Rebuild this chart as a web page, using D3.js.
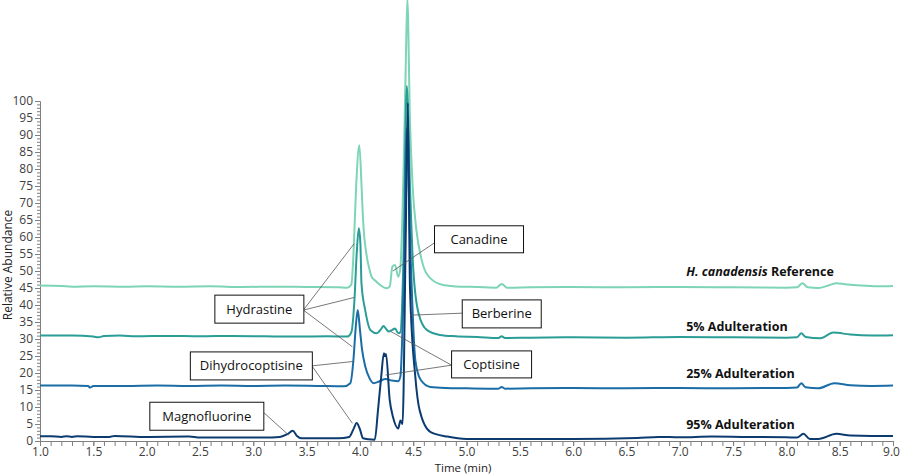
<!DOCTYPE html>
<html>
<head>
<meta charset="utf-8">
<script src="https://cdn.jsdelivr.net/npm/d3@7"></script>
<style>
body { margin: 0; background: #fff; }
text { font-family: "Open Sans", "Noto Sans", sans-serif; }
</style>
</head>
<body>
<script>
const width = 900;
const height = 475;

//-----------------------------DATA------------------------------//
const refTime = [1.0,1.2,1.3,1.5,1.8,2.0,2.3,2.6,2.9,3.2,3.5,3.8,3.88,3.92,3.94,3.965,3.995,4.016,4.03,4.065,4.09,4.11,4.15,4.19,4.25,4.28,4.305,4.33,4.36,4.38,4.41,4.43,4.445,4.47,4.495,4.53,4.58,4.66,4.78,4.95,5.1,5.28,5.33,5.38,5.6,6.0,6.5,7.0,7.5,8.0,8.1,8.15,8.2,8.3,8.4,8.47,8.55,8.7,8.85,9.0];
const refVal = [45.7,45.6,45.4,45.5,45.4,45.5,45.4,45.5,45.3,45.4,45.3,45.2,45.1,46,55,74.8,87,74.8,65,54.2,50.5,48.3,47,45.9,44.9,45.4,51.3,51.8,48.3,51,80,110,130,94,74.8,62,53.2,47.9,45.9,45.4,45.3,45.1,46.2,45.1,45.2,45.3,45.2,45.3,45.2,45.1,45.2,46.4,45.2,45,45.8,46.4,46.1,45.7,45.5,45.6];

const tealTime = [1.0,1.3,1.5,1.55,1.6,1.75,1.9,2.2,2.5,2.8,3.1,3.4,3.7,3.88,3.92,3.95,3.97,3.99,4.005,4.015,4.05,4.1,4.16,4.2,4.22,4.25,4.27,4.3,4.33,4.36,4.38,4.41,4.44,4.47,4.5,4.55,4.63,4.75,4.9,5.1,5.3,5.33,5.36,5.6,6.0,6.5,7.0,7.5,8.0,8.1,8.14,8.18,8.32,8.44,8.6,8.8,9.0];
const tealVal = [31,31,30.7,30.5,30.9,31,30.8,30.9,30.8,30.9,30.8,30.7,30.8,30.7,32,42,55,62.6,58,46.4,38.5,32.6,31.7,33,33.8,32.8,32.2,32.6,33.1,31.7,32,55,104.4,75,51,37.6,32.6,31.2,30.8,30.6,30.3,30.8,30.3,30.4,30.5,30.4,30.6,30.5,30.4,30.5,31.7,30.6,30.2,31.9,31.3,31.0,31.1];

const blueTime = [1.0,1.3,1.45,1.47,1.5,1.8,2.1,2.4,2.7,3.0,3.3,3.6,3.85,3.91,3.94,3.96,3.98,4.0,4.02,4.05,4.09,4.13,4.18,4.24,4.3,4.36,4.38,4.41,4.44,4.47,4.52,4.57,4.66,4.8,5.0,5.3,5.33,5.36,5.6,6.0,6.5,7.0,7.5,8.0,8.1,8.14,8.18,8.3,8.45,8.6,8.8,9.0];
const blueVal = [16.3,16.3,16.2,15.7,16.2,16.2,16.3,16.2,16.3,16.2,16.3,16.2,16.1,17,24,33,38.5,33,27,22,18.5,17,17.5,18.2,17.8,17.6,19,45,92,60,23.8,18,15.9,15.6,15.5,15.4,15.9,15.4,15.5,15.6,15.5,15.6,15.5,15.6,15.7,17,15.8,15.5,17,16.4,16.2,16.3];

const navyTime = [1.0,1.1,1.2,1.25,1.3,1.35,1.5,1.65,1.7,2.0,2.4,2.5,2.8,3.1,3.25,3.32,3.37,3.41,3.45,3.6,3.8,3.9,3.94,3.97,4.0,4.03,4.08,4.14,4.17,4.2,4.225,4.235,4.245,4.28,4.31,4.36,4.38,4.40,4.43,4.45,4.47,4.52,4.56,4.66,4.82,5.0,5.5,6.0,6.6,6.8,7.0,7.3,7.6,8.0,8.1,8.16,8.22,8.3,8.47,8.6,8.8,9.0];
const navyVal = [1.4,1.4,1.2,1.4,1.2,1.4,1.2,1.2,1.5,1.2,1.3,1.0,1.0,1.0,1.2,2.0,3.0,1.5,0.8,0.8,0.8,1.2,3.5,5.3,3.5,0.8,0.5,0.4,9.1,18.9,25.8,25,25.6,12,7.1,3.7,6,5,60,99.4,45,18.9,9.1,2.7,1.3,0.6,0.6,0.6,0.9,1.2,1.1,1.3,1.2,1.1,1.0,2.1,0.6,0.6,2.1,1.6,1.5,1.5];

const seriesNames = ["H. canadensis Reference", "5% Adulteration", "25% Adulteration", "95% Adulteration"];
const seriesColors = ["#7dd5b5", "#2a9d97", "#1a6da6", "#0c3b70"];
// label position (time, abundance) for the bold series labels
const seriesLabelAt = [[7.06, 48.5], [7.06, 32.5], [7.06, 18.4], [7.06, 3.4]];

const xTicks = d3.range(1.0, 9.01, 0.5);
const yTicks = d3.range(0, 101, 5);

// annotation boxes: name, box left/top in (time, abundance), leader targets (time, abundance)
const annoNames = ["Canadine", "Berberine", "Coptisine", "Hydrastine", "Dihydrocoptisine", "Magnofluorine"];
const annoBox = [[4.70, 63.3], [4.96, 41.5], [4.86, 26.5], [2.64, 42.9], [2.41, 26.2], [2.03, 11.4]];
const annoSize = [[89, 27], [79, 28], [80, 27], [89, 28], [122, 28], [114, 28]];
const annoFrom = [[4.70, 58.3], [4.96, 37.6], [4.86, 22.3], [3.47, 38.5], [3.55, 22.1], [3.10, 8.3]];
const annoTargets = [
	[[4.31, 50.0]],
	[[4.47, 37.0]],
	[[4.24, 19.4], [4.29, 32.2]],
	[[3.945, 58.0], [3.945, 42.2], [3.93, 27.7]],
	[[3.94, 23.4], [3.93, 5.2]],
	[[3.33, 1.8]]
];

//----------------------------SCALES-----------------------------//
const xScale = d3.scaleLinear().domain([1, 9]).range([40, 893]);
const yScale = d3.scaleLinear().domain([0, 100]).range([441, 101]);

const svg = d3.select("body").append("svg")
	.attr("width", width).attr("height", height);

//-----------------------------AXES------------------------------//
const axisColor = "#7f7f7f";

// minor ticks first
svg.append("g").attr("transform", "translate(0,441)")
	.call(d3.axisBottom(xScale).tickValues(d3.range(1.0, 9.001, 0.1)).tickSize(5).tickSizeOuter(0).tickFormat(""));
svg.append("g").attr("transform", "translate(40,0)")
	.call(d3.axisLeft(yScale).tickValues(d3.range(0, 100.5, 1)).tickSize(3).tickSizeOuter(0).tickFormat(""));

const xAxis = svg.append("g").attr("transform", "translate(0,441)")
	.call(d3.axisBottom(xScale).tickValues(xTicks).tickSize(5).tickSizeOuter(0).tickFormat(d3.format(".1f")));
const yAxis = svg.append("g").attr("transform", "translate(40,0)")
	.call(d3.axisLeft(yScale).tickValues(yTicks).tickSize(5).tickSizeOuter(0));

svg.selectAll(".domain, .tick line").attr("stroke", axisColor);
xAxis.selectAll("text").attr("font-size", 12).attr("fill", "#404040").attr("y", 4).attr("dy", "0.9em");
xAxis.selectAll(".tick:last-of-type text").attr("dx", -2);
yAxis.selectAll("text").attr("font-size", 12).attr("fill", "#404040").attr("x", -7);

svg.append("text").attr("x", 463).attr("y", 472).attr("text-anchor", "middle")
	.attr("font-size", 11.5).attr("fill", "#222").text("Time (min)");
svg.append("text").attr("transform", "translate(12,265) rotate(-90)").attr("text-anchor", "middle")
	.attr("font-size", 12).attr("fill", "#222").text("Relative Abundance");

//----------------------------LINES------------------------------//
const line = d3.line().curve(d3.curveMonotoneX)
	.x(function(d) { return xScale(d[0]); })
	.y(function(d) { return yScale(d[1]); });

const series = [
	d3.zip(refTime, refVal),
	d3.zip(tealTime, tealVal),
	d3.zip(blueTime, blueVal),
	d3.zip(navyTime, navyVal)
];

svg.append("g").selectAll("path").data(series).enter().append("path")
	.attr("fill", "none")
	.attr("stroke", function(d, i) { return seriesColors[i]; })
	.attr("stroke-width", 2)
	.attr("stroke-linejoin", "round")
	.attr("d", line);

//-------------------------SERIES LABELS--------------------------//
seriesNames.forEach(function(name, i) {
	const t = svg.append("text")
		.attr("x", xScale(seriesLabelAt[i][0]))
		.attr("y", yScale(seriesLabelAt[i][1]))
		.attr("font-size", 12.5).attr("font-weight", "bold").attr("fill", "#111");
	if (i === 0) {
		t.append("tspan").attr("font-style", "italic").text("H. canadensis");
		t.append("tspan").text(" Reference");
	} else {
		t.text(name);
	}
});

//-------------------------ANNOTATIONS----------------------------//
const anno = svg.append("g");
annoNames.forEach(function(name, i) {
	const from = annoFrom[i];
	annoTargets[i].forEach(function(tg) {
		anno.append("line")
			.attr("x1", xScale(from[0])).attr("y1", yScale(from[1]))
			.attr("x2", xScale(tg[0])).attr("y2", yScale(tg[1]))
			.attr("stroke", "#555").attr("stroke-width", 0.8);
	});
	const bx = xScale(annoBox[i][0]);
	const by = yScale(annoBox[i][1]);
	anno.append("rect")
		.attr("x", bx).attr("y", by)
		.attr("width", annoSize[i][0]).attr("height", annoSize[i][1])
		.attr("fill", "#fff").attr("stroke", "#111").attr("stroke-width", 1);
	anno.append("text")
		.attr("x", bx + annoSize[i][0] / 2).attr("y", by + annoSize[i][1] / 2)
		.attr("dy", "0.35em").attr("text-anchor", "middle")
		.attr("font-size", 13).attr("fill", "#111").text(name);
});
</script>
</body>
</html>
